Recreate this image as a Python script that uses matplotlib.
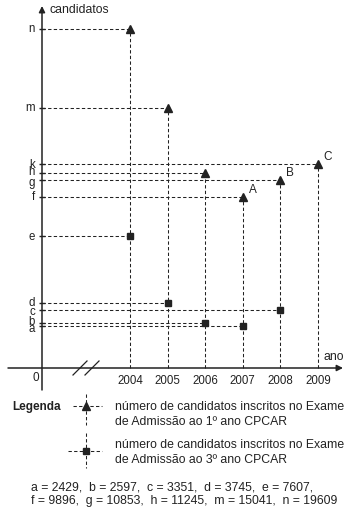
import matplotlib
matplotlib.use("Agg")
import matplotlib.pyplot as plt

plt.rcParams['font.family'] = ['Liberation Sans', 'DejaVu Sans']

# ---------------------------------------------------------------------------
# Dados
# ---------------------------------------------------------------------------
anos = [2004, 2005, 2006, 2007, 2008, 2009]
letras_1ano = ['n', 'm', 'h', 'f', 'g', 'k']
cand_1ano = [19609, 15041, 11245, 9896, 10853, 11800]   # k estimado

anos_3ano = [2004, 2005, 2006, 2007, 2008]
letras_3ano = ['e', 'd', 'b', 'a', 'c']
cand_3ano = [7607, 3745, 2597, 2429, 3351]

rotulos_pontos = {2007: 'A', 2008: 'B', 2009: 'C'}

valores_txt = ["a = 2429,  b = 2597,  c = 3351,  d = 3745,  e = 7607,",
               "f = 9896,  g = 10853,  h = 11245,  m = 15041,  n = 19609"]

# ---------------------------------------------------------------------------
# Layout (pixels of the 356x513 image)
# ---------------------------------------------------------------------------
W, H = 356, 513
PX_2004, PX_STEP = 130, 37.6      # x pixel of 2004 and per-year step
PY_ZERO, PY_SCALE = 368, 0.0173   # y pixel of 0 candidates, px per candidate
PX_EIXO = 42                      # y axis x pixel

CLR = '#222222'
DASH = (0, (3.2, 2.2))
# small vertical nudges (points) so the crowded letters stack like the original
NUDGE = {'h': 1.5, 'g': -1.5, 'd': 1.0, 'c': -1.0, 'b': 1.5, 'a': -1.5}

def fx(px):
    return px / W

def fy(py):
    return 1 - py / H

fig = plt.figure(figsize=(W / 100, H / 100), dpi=100)
ax = fig.add_axes([0, 0, 1, 1])
ax.set_xlim(2004 - PX_2004 / PX_STEP, 2004 + (W - PX_2004) / PX_STEP)
ax.set_ylim(-(H - PY_ZERO) / PY_SCALE, PY_ZERO / PY_SCALE)
ax.axis('off')

x_eixo = 2004 - (PX_2004 - PX_EIXO) / PX_STEP

# dashed guide lines
for ano, v in zip(anos, cand_1ano):
    ax.plot([x_eixo, ano], [v, v], color=CLR, lw=0.75, ls=DASH)
    ax.plot([ano, ano], [0, v], color=CLR, lw=0.75, ls=DASH)
for ano, v in zip(anos_3ano, cand_3ano):
    ax.plot([x_eixo, ano], [v, v], color=CLR, lw=0.75, ls=DASH)

# markers
ax.plot(anos, cand_1ano, ls='none', marker='^', ms=6.2, color=CLR, zorder=5)
ax.plot(anos_3ano, cand_3ano, ls='none', marker='s', ms=4.4, color=CLR, zorder=5)

for ano, v in zip(anos, cand_1ano):
    if ano in rotulos_pontos:
        ax.annotate(rotulos_pontos[ano], (ano, v), xytext=(7, 5),
                    textcoords='offset points', ha='center', va='center',
                    fontsize=8.5, color=CLR)

# y tick letters
for letra, v in zip(letras_1ano + letras_3ano, cand_1ano + cand_3ano):
    ax.plot([x_eixo], [v], marker='_', ms=4.5, mew=1.0, color=CLR)
    ax.annotate(letra, (x_eixo, v), xytext=(-5, -0.5 + NUDGE.get(letra, 0)),
                textcoords='offset points', ha='right', va='center',
                fontsize=8.3, color=CLR)

# axes with arrows
arrow = dict(arrowstyle='-|>', color=CLR, lw=1.1, mutation_scale=9,
             shrinkA=0, shrinkB=0)
ax.annotate('', xy=(fx(PX_EIXO), fy(6)), xytext=(fx(PX_EIXO), fy(390)),
            xycoords='axes fraction', arrowprops=arrow)
ax.annotate('', xy=(fx(343), fy(PY_ZERO)), xytext=(fx(8), fy(PY_ZERO)),
            xycoords='axes fraction', arrowprops=arrow)

# axis break
for x0 in (73, 85):
    ax.plot([fx(x0), fx(x0 + 14)], [fy(375), fy(361)], color=CLR, lw=0.9,
            transform=ax.transAxes)

# axis labels and year ticks
ax.text(fx(50), fy(10), 'candidatos', fontsize=8.8, color=CLR,
        ha='left', va='center', transform=ax.transAxes)
ax.text(fx(323), fy(357), 'ano', fontsize=8.8, color=CLR,
        ha='left', va='center', transform=ax.transAxes)
ax.text(fx(36), fy(378), '0', fontsize=8.5, color=CLR,
        ha='center', va='center', transform=ax.transAxes)
for ano in anos:
    ax.annotate(str(ano), (ano, 0), xytext=(0, -9), textcoords='offset points',
                ha='center', va='center', fontsize=8.3, color=CLR)

# legend
ax.text(fx(12), fy(407), 'Legenda', fontsize=8.5, fontweight='bold', color=CLR,
        ha='left', va='center', transform=ax.transAxes)
for (py, vtop, vbot, h0, mk, ms) in [(406, 394, 425, 73, '^', 6.2),
                                     (451, 433, 468, 68, 's', 4.4)]:
    ax.plot([fx(h0), fx(102)], [fy(py), fy(py)], color=CLR, lw=0.75, ls=DASH,
            transform=ax.transAxes)
    ax.plot([fx(86), fx(86)], [fy(vtop), fy(vbot)], color=CLR, lw=0.75, ls=DASH,
            transform=ax.transAxes)
    ax.plot([fx(86)], [fy(py)], marker=mk, ms=ms, color=CLR, ls='none',
            transform=ax.transAxes)

leg_txt = [("número de candidatos inscritos no Exame", 407),
           ("de Admissão ao 1º ano CPCAR", 422),
           ("número de candidatos inscritos no Exame", 445),
           ("de Admissão ao 3º ano CPCAR", 460)]
for txt, py in leg_txt:
    ax.text(fx(115), fy(py), txt, fontsize=8.8, color=CLR, ha='left', va='center',
            transform=ax.transAxes)

for txt, py in zip(valores_txt, (487, 501)):
    ax.text(fx(31), fy(py), txt, fontsize=8.8, color=CLR, ha='left', va='center',
            transform=ax.transAxes)

fig.savefig("out.png", dpi=100)
